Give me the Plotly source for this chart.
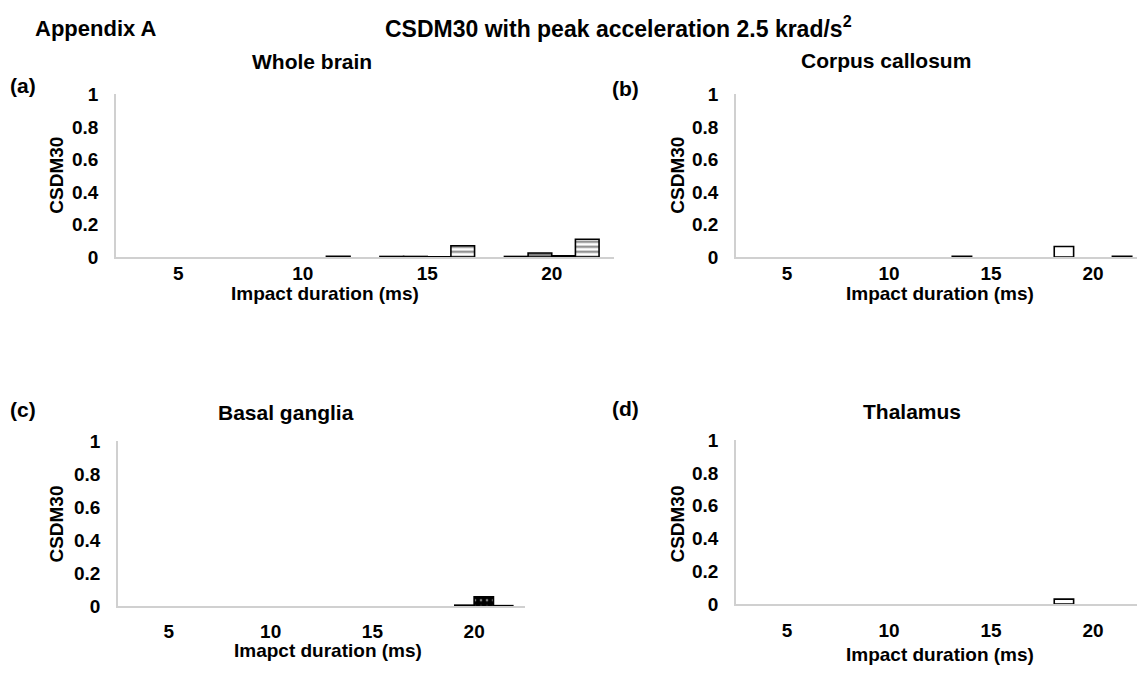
import plotly.graph_objects as go

W, H = 1137, 679

durations = ["5", "10", "15", "20"]
series_names = ["Series 1", "Series 2", "Series 3", "Series 4"]

whole_brain = {
    "Series 1": [0, 0, 0.004, 0.004],
    "Series 2": [0, 0, 0.004, 0.025],
    "Series 3": [0, 0, 0.002, 0.008],
    "Series 4": [0, 0.005, 0.07, 0.11],
}
corpus_callosum = {
    "Series 1": [0, 0, 0.005, 0.065],
    "Series 2": [0, 0, 0, 0],
    "Series 3": [0, 0, 0, 0],
    "Series 4": [0, 0, 0, 0.005],
}
basal_ganglia = {
    "Series 1": [0, 0, 0, 0],
    "Series 2": [0, 0, 0, 0.005],
    "Series 3": [0, 0, 0, 0.055],
    "Series 4": [0, 0, 0, 0.002],
}
thalamus = {
    "Series 1": [0, 0, 0, 0.03],
    "Series 2": [0, 0, 0, 0],
    "Series 3": [0, 0, 0, 0],
    "Series 4": [0, 0, 0, 0],
}

yticks = [0, 0.2, 0.4, 0.6, 0.8, 1]
ytick_text = ["0", "0.2", "0.4", "0.6", "0.8", "1"]

FONT = "Liberation Sans, Arial, sans-serif"

styles = {
    "Series 1": dict(color="white", line=dict(color="black", width=1.6)),
    "Series 2": dict(color="#808080", line=dict(color="black", width=1.6)),
    "Series 3": dict(color="black", line=dict(color="black", width=1.6),
                     pattern=dict(shape=".", fgcolor="white", bgcolor="black", size=6, solidity=0.15)),
    "Series 4": dict(color="white", line=dict(color="black", width=1.6),
                     pattern=dict(shape="-", fgcolor="black", bgcolor="white", size=5, solidity=0.4)),
}

def px_x(a, b):
    return [a / W, min(b / W, 1.0)]

def px_y(top, bottom):
    return [1 - bottom / H, 1 - top / H]

# panel geometry (pixels): x0, x1, ytop, ybottom, category width, x tick label standoff
panels = [
    ("a", whole_brain, 116, 614, 87, 255, 124.5, -2),
    ("b", corpus_callosum, 736, 1137, 87, 255, 102, -2),
    ("c", basal_ganglia, 118, 525, 445, 615, 101.75, 7),
    ("d", thalamus, 736, 1137, 444, 613, 102, 8),
]

TICK = 19

fig = go.Figure()
for i, (lab, data, x0, x1, yt, yb, cw, xsto) in enumerate(panels):
    n = "" if i == 0 else str(i + 1)
    for s in series_names:
        vals = [v if v > 0 else None for v in data[s]]
        fig.add_trace(go.Bar(
            x=durations, y=vals, name=s, marker=styles[s],
            xaxis="x" + n, yaxis="y" + n, showlegend=False,
            offsetgroup=s,
        ))
    span = (x1 - x0) / cw
    fig.layout["xaxis" + n] = dict(
        domain=px_x(x0, x1), anchor="y" + n, type="category",
        range=[-0.5, -0.5 + span], showgrid=False, zeroline=False,
        showline=True, linecolor="#d0d0d0", linewidth=1.5, ticks="",
        tickfont=dict(family=FONT, size=TICK, color="black", weight="bold"),
        ticklabelstandoff=xsto, fixedrange=True,
    )
    fig.layout["yaxis" + n] = dict(
        domain=px_y(yt, yb), anchor="x" + n, range=[0, 1],
        tickvals=yticks, ticktext=ytick_text, showgrid=False, zeroline=False,
        showline=True, linecolor="#d0d0d0", linewidth=1.5, ticks="",
        tickfont=dict(family=FONT, size=TICK, color="black", weight="bold"),
        ticklabelstandoff=12, fixedrange=True,
    )

fig.update_layout(
    width=W, height=H, margin=dict(l=0, r=0, t=0, b=0),
    paper_bgcolor="white", plot_bgcolor="white",
    barmode="group", bargap=0.24, bargroupgap=0,
)

def ann(text, x, y, size, angle=0, xanchor="center"):
    fig.add_annotation(
        text=text, x=x / W, y=1 - y / H, xref="paper", yref="paper",
        showarrow=False, textangle=angle, xanchor=xanchor, yanchor="middle",
        font=dict(family=FONT, size=size, color="black", weight="bold"),
    )

ann("Appendix A", 33, 19, 22, xanchor="left")
ann("CSDM30 with peak acceleration 2.5 krad/s<sup>2</sup>", 618, 18, 23)

ann("Whole brain", 312, 53, 21)
ann("Corpus callosum", 886, 52, 21)
ann("Basal ganglia", 286, 415, 21)
ann("Thalamus", 912, 414, 21)

ann("(a)", 8, 78, 21, xanchor="left")
ann("(b)", 610, 81, 21, xanchor="left")
ann("(c)", 8, 412, 21, xanchor="left")
ann("(d)", 610, 411, 21, xanchor="left")

ann("CSDM30", 57, 171, 19, angle=-90)
ann("CSDM30", 678, 171, 19, angle=-90)
ann("CSDM30", 57, 531, 19, angle=-90)
ann("CSDM30", 678, 531, 19, angle=-90)

ann("Impact duration (ms)", 325, 293, 19)
ann("Impact duration (ms)", 940, 293, 19)
ann("Imapct duration (ms)", 328, 661, 19)
ann("Impact duration (ms)", 940, 665, 19)

fig.write_html("out.html")
